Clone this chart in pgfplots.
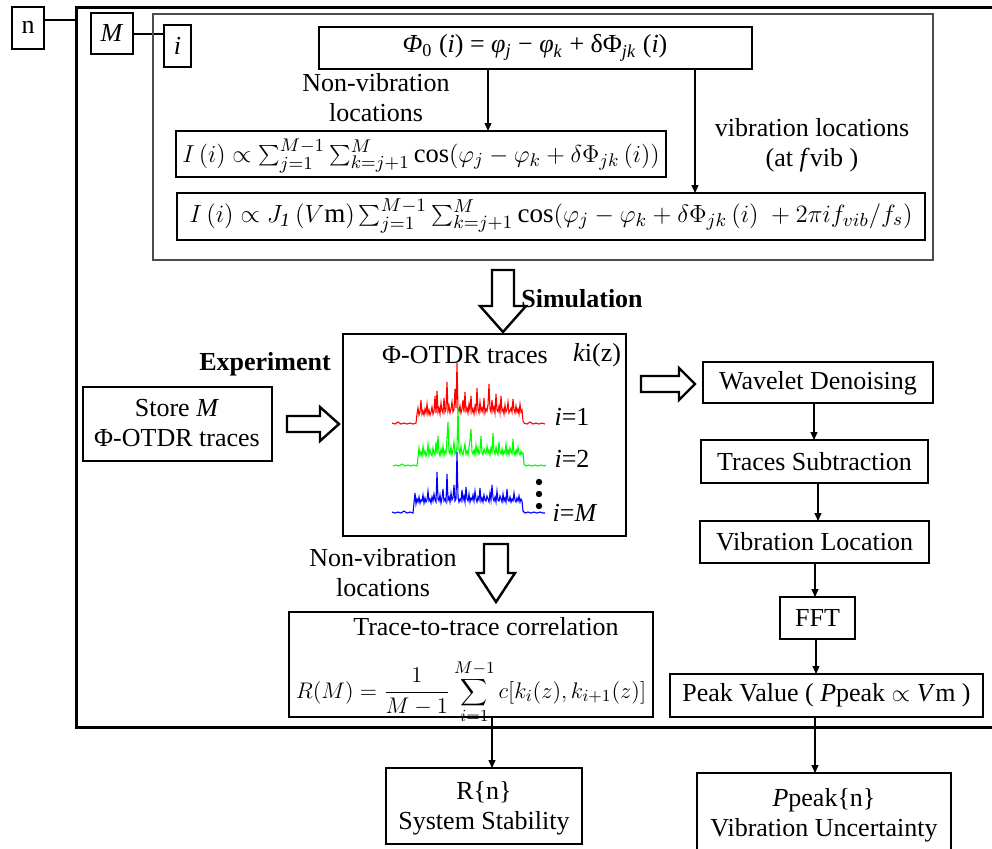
\documentclass[border=0pt]{standalone}
\usepackage{fontspec}
\setmainfont{Liberation Serif}
\usepackage{pgfplots}
\pgfplotsset{compat=1.18}
\usepackage{pgfplotstable}
\usetikzlibrary{arrows.meta}

\pgfplotstableread{
x y
0 1
3 0
6 2
9 0
12 1
15 0
18 1
21 0
24 1
25 10
26 16
27 9
28 12
29 24
30 10
31 13
32 9
33 15
34 11
35 20
36 10
37 14
38 9
39 12
40 17
41 10
42 13
43 28
44 11
45 33
46 12
47 16
48 10
49 21
50 13
51 11
52 26
53 12
54 15
55 42
56 13
57 18
58 11
59 15
60 22
61 12
62 14
63 35
64 16
65 61
66 14
67 12
68 18
69 11
70 15
71 24
72 12
73 32
74 13
75 16
76 11
77 20
78 14
79 28
80 12
81 15
82 10
83 18
84 13
85 36
86 14
87 11
88 22
89 13
90 16
91 12
92 26
93 11
94 15
95 13
96 19
97 40
98 15
99 12
100 24
101 13
102 17
103 11
104 30
105 14
106 12
107 18
108 11
109 28
110 13
111 15
112 10
113 19
114 12
115 14
116 22
117 11
118 13
119 16
120 12
121 25
122 14
123 11
124 18
125 12
126 15
127 10
128 20
129 12
130 14
131 3
132 1
135 0
138 2
141 0
144 1
147 0
150 1
153 0
}\redtr

\pgfplotstableread{
x y
0 0
3 1
6 0
9 2
12 0
15 1
18 0
21 1
24 0
25 9
26 18
27 11
28 14
29 10
30 20
31 12
32 15
33 10
34 13
35 22
36 11
37 16
38 12
39 10
40 18
41 13
42 11
43 24
44 12
45 30
46 14
47 10
48 17
49 12
50 20
51 11
52 15
53 13
54 28
55 44
56 14
57 12
58 19
59 11
60 16
61 24
62 12
63 14
64 18
65 58
66 15
67 12
68 20
69 13
70 11
71 17
72 22
73 12
74 15
75 11
76 19
77 26
78 37
79 14
80 12
81 16
82 11
83 21
84 13
85 18
86 12
87 15
88 30
89 13
90 11
91 17
92 14
93 12
94 20
95 13
96 16
97 11
98 18
99 14
100 33
101 15
102 12
103 19
104 13
105 11
106 24
107 14
108 12
109 17
110 11
111 15
112 13
113 22
114 12
115 16
116 11
117 18
118 14
119 12
120 27
121 13
122 11
123 16
124 12
125 19
126 13
127 11
128 15
129 12
130 13
131 2
133 0
136 1
139 0
142 1
145 0
148 1
151 0
153 1
}\greentr

\pgfplotstableread{
x y
0 1
3 0
6 1
9 0
12 2
15 0
18 1
21 0
23 20
24 9
25 14
26 11
27 16
28 10
29 13
30 12
31 18
32 10
33 15
34 11
35 13
36 22
37 12
38 14
39 10
40 16
41 12
42 19
43 13
44 11
45 41
46 14
47 12
48 18
49 10
50 15
51 24
52 12
53 14
54 11
55 39
56 13
57 16
58 11
59 20
60 13
61 15
62 28
63 12
64 14
65 61
66 16
67 11
68 14
69 12
70 23
71 13
72 17
73 11
74 26
75 14
76 12
77 19
78 11
79 15
80 13
81 18
82 12
83 22
84 14
85 11
86 16
87 13
88 25
89 12
90 15
91 11
92 18
93 13
94 12
95 17
96 14
97 11
98 20
99 13
100 28
101 15
102 12
103 16
104 11
105 22
106 13
107 12
108 17
109 14
110 11
111 19
112 12
113 15
114 11
115 24
116 13
117 12
118 16
119 11
120 14
121 12
122 20
123 13
124 11
125 15
126 12
127 17
128 11
129 14
130 12
131 2
133 0
136 1
139 0
142 1
145 0
148 1
151 0
153 0
}\bluetr

\begin{document}
\begin{tikzpicture}[font=\fontsize{13}{15}\selectfont, every node/.style={inner sep=1pt}]
\begin{axis}[hide axis, scale only axis, width=496pt, height=424pt,
  xmin=0, xmax=992, ymin=0, ymax=848, y dir=reverse, clip=false,
  anchor=south west, at={(0,0)}]
% traces
\addplot[red, line width=0.55pt] table[x expr=\thisrow{x}+392, y expr=424-\thisrow{y}] {\redtr};
\addplot[green, line width=0.55pt] table[x expr=\thisrow{x}+393, y expr=466-\thisrow{y}] {\greentr};
\addplot[blue, line width=0.55pt] table[x expr=\thisrow{x}+392, y expr=513-\thisrow{y}] {\bluetr};

% loop frames
\draw[line width=0.75pt] (12,7) rectangle (44,49);
\node at (28,27) {n};
\draw[line width=0.75pt] (44,20) -- (76,20);
\draw[line width=1.5pt] (1010,7) -- (76,7) -- (76,727) -- (1010,727);
\draw[line width=0.75pt] (91,13) rectangle (133,54);
\node at (112,33) {\textit{M}};
\draw[line width=0.6pt] (133,34) -- (164,34);
\draw[line width=0.6pt, black!70] (153,14) rectangle (933,260);
\draw[line width=0.75pt, fill=white] (164,25) rectangle (191,67);
\node at (177.5,46) {\textit{i}};

% simulation part
\draw[line width=0.75pt] (319,27) rectangle (752,69);
\node at (535,48) {\textit{Φ}\textsubscript{0} (\textit{i}) = \textit{φ}\textsubscript{\textit{j}} − \textit{φ}\textsubscript{\textit{k}} + δΦ\textsubscript{\textit{jk}} (\textit{i})};
\node[align=center] at (376,98) {Non-vibration\\locations};
\draw[line width=0.6pt, -{Triangle[length=4pt,width=3.5pt]}] (488,69) -- (488,131);
\draw[line width=0.6pt, -{Triangle[length=4pt,width=3.5pt]}] (695,69) -- (695,193);
\node[align=center] at (812,145) {vibration locations\\(at \textit{f}vib )};
\draw[line width=0.75pt] (176,131) rectangle (666,177);
\node at (421,156) {\scalebox{1.02}{$I\,(i) \propto \sum_{j=1}^{M-1}\sum_{k=j+1}^{M}\cos(\varphi_j - \varphi_k + \delta\Phi_{jk}\,(i))$}};
\draw[line width=0.75pt] (177,193) rectangle (925,240);
\node at (551,216) {\scalebox{1.04}{$I\,(i) \propto J_{\mathit{1}}\,(V\mathrm{m}) \sum_{j=1}^{M-1}\sum_{k=j+1}^{M}\cos(\varphi_j - \varphi_k + \delta\Phi_{jk}\,(i)\ + 2\pi i f_{vib}/f_s)$}};

% hollow arrows
\draw[line width=1.2pt, fill=white] (492,270) -- (514,270) -- (514,306) -- (526,306) -- (503,332) -- (480,306) -- (492,306) -- cycle;
\node at (582,299) {\textbf{Simulation}};
\node at (265,364) {\textbf{Experiment}};
\draw[line width=0.75pt] (83,387) rectangle (272,461);
\node[align=center] at (177,423) {Store \textit{M}\\Φ-OTDR traces};
\draw[line width=1.2pt, fill=white] (287,416) -- (320,416) -- (320,407) -- (339,424) -- (320,441) -- (320,432) -- (287,432) -- cycle;
\draw[line width=1.2pt, fill=white] (641,376) -- (679,376) -- (679,368) -- (695,384) -- (679,400) -- (679,392) -- (641,392) -- cycle;

% traces box
\draw[line width=0.75pt] (343,334) rectangle (626,536);
\node at (465,355) {Φ-OTDR traces};
\node at (597,355) {\textit{k}i(z)};
\node at (572,417) {\textit{i}=1};
\node at (572,459) {\textit{i}=2};
\node at (575,513) {\textit{i}=\textit{M}};
\fill (539,482) circle (1.6pt);
\fill (539,494) circle (1.6pt);
\fill (539,506) circle (1.6pt);

% right column
\draw[line width=0.75pt] (703,362) rectangle (933,403);
\node at (818,383) {Wavelet Denoising};
\draw[line width=0.6pt, -{Triangle[length=4pt,width=3.5pt]}] (814,403) -- (814,440);
\draw[line width=0.75pt] (701,440) rectangle (928,483);
\node at (814.5,462) {Traces Subtraction};
\draw[line width=0.6pt, -{Triangle[length=4pt,width=3.5pt]}] (818,483) -- (818,521);
\draw[line width=0.75pt] (700,521) rectangle (929,563);
\node at (814.5,542) {Vibration Location};
\draw[line width=0.6pt, -{Triangle[length=4pt,width=3.5pt]}] (815,563) -- (815,597);
\draw[line width=0.75pt] (780,597) rectangle (855,639);
\node at (817.5,618) {FFT};
\draw[line width=0.6pt, -{Triangle[length=4pt,width=3.5pt]}] (816,639) -- (816,674);
\draw[line width=0.75pt] (670,674) rectangle (983,717);
\node at (826.5,695.5) {Peak Value ( \textit{P}peak $\propto$ \textit{V}m )};
\draw[line width=0.6pt, -{Triangle[length=4pt,width=3.5pt]}] (815,717) -- (815,773);
\draw[line width=0.75pt] (697,860) -- (697,773) -- (951,773) -- (951,860);
\node[align=center] at (824,815) {\textit{P}peak\{n\}\\Vibration Uncertainty};

% bottom left
\node[align=center] at (383,573) {Non-vibration\\locations};
\draw[line width=1.2pt, fill=white] (484,544) -- (508,544) -- (508,573) -- (515,573) -- (496,602) -- (477,573) -- (484,573) -- cycle;
\draw[line width=0.75pt] (289,612) rectangle (653,717);
\node at (486,627) {Trace-to-trace correlation};
\node at (471,692) {\scalebox{0.94}{$\displaystyle R(M) = \frac{1}{M-1}\sum_{i=1}^{M-1} c\bigl[k_i(z),k_{i+1}(z)\bigr]$}};
\draw[line width=0.6pt, -{Triangle[length=4pt,width=3.5pt]}] (492,717) -- (492,768);
\draw[line width=0.75pt] (386,768) rectangle (582,844);
\node[align=center] at (484,808) {R\{n\}\\System Stability};
\end{axis}
\pgfresetboundingbox
\path (0,0) rectangle (496pt,424pt);
\end{tikzpicture}
\end{document}
